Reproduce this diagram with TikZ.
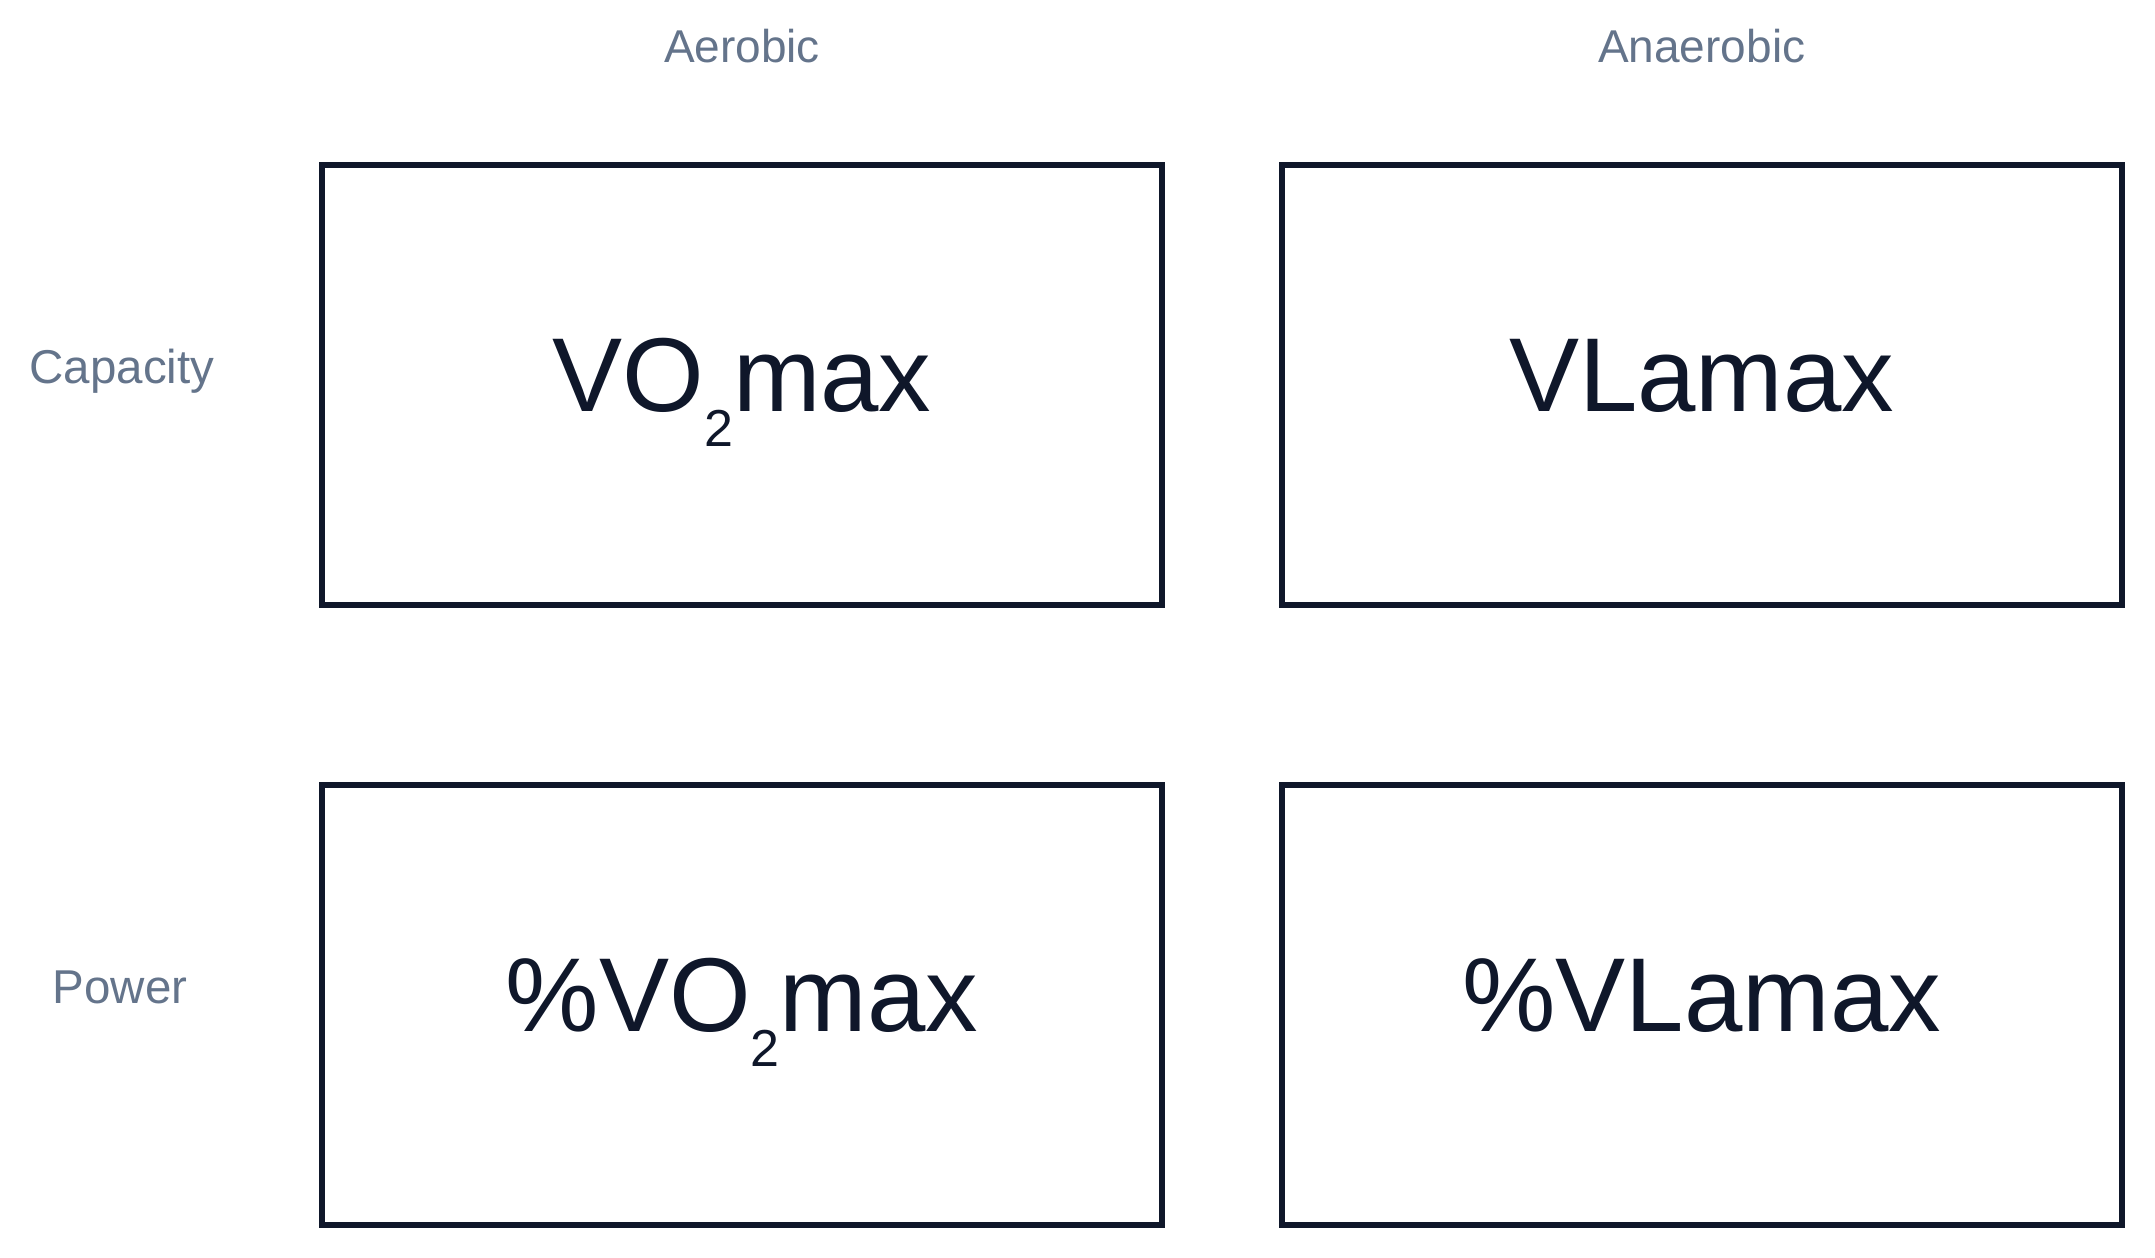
\documentclass[tikz,border=0pt]{standalone}
\usepackage{fontspec}
\setmainfont{Liberation Sans}
\usepackage{tikz}
\usetikzlibrary{positioning}
\definecolor{ink}{HTML}{0F172A}
\definecolor{muted}{HTML}{64748B}
\tikzset{
x=1pt, y=1pt, % one unit per pixel of the reference
node distance=114pt, % gap between neighbouring boxes
cell/.style={draw=ink, line width=5.7pt, minimum width=840pt, minimum height=440pt,
  inner sep=0pt, text=ink, font=\fontsize{105}{105}\selectfont,
  text height=80pt, text depth=26pt}, % sets the look of the four boxes
head/.style={text=muted, font=\fontsize{46}{46}\selectfont, anchor=base, inner sep=0pt},
side/.style={head, font=\fontsize{47.5}{47.5}\selectfont},
}
\newcommand{\subtwo}{\raisebox{-35pt}{\fontsize{52}{52}\selectfont 2}}

\begin{document}
\begin{tikzpicture}
  \useasboundingbox (0,0) rectangle (2155,1258); % keeps the margins of the page
  \node[cell] at (742,873) (vo2) {VO\subtwo max};
  \node[cell, right=of vo2] (vla) {VLamax};
  \node[cell, below=174pt of vo2] (pvo2) {\%VO\subtwo max};
  \node[cell, right=of pvo2] (pvla) {\%VLamax};

  \coordinate (hrow) at (0,1195);
  \node[head] (aer) at (vo2 |- hrow) {Aerobic};
  \node[head] (anaer) at (vla |- hrow) {Anaerobic};
  \node[side] (cap) at (122,874) {Capacity};
  \node[side] (pow) at (120,254) {Power};
\end{tikzpicture}
\end{document}
